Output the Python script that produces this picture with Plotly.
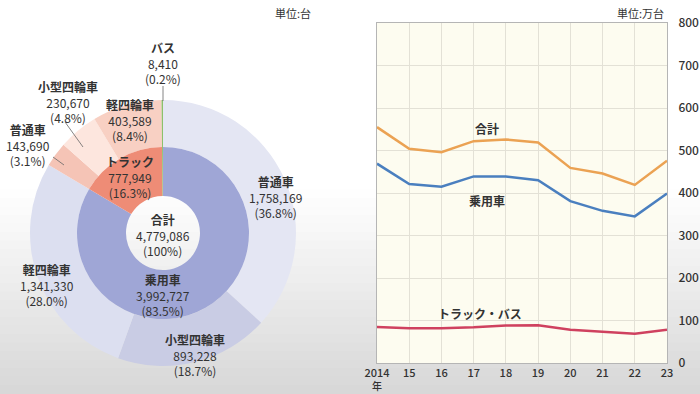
import plotly.graph_objects as go

# ---------------- data ----------------
inner_labels = ["乗用車", "トラック", "バス"]
inner_values = [3992727, 777949, 8410]
inner_pct = ["83.5%", "16.3%", "0.2%"]

outer_labels = ["普通車", "小型四輪車", "軽四輪車", "普通車", "小型四輪車", "軽四輪車", "バス"]
outer_values = [1758169, 893228, 1341330, 143690, 230670, 403589, 8410]
outer_pct = ["36.8%", "18.7%", "28.0%", "3.1%", "4.8%", "8.4%", "0.2%"]

total_value = 4779086

years = [2014, 2015, 2016, 2017, 2018, 2019, 2020, 2021, 2022, 2023]
year_labels = ["2014", "15", "16", "17", "18", "19", "20", "21", "22", "23"]
year_unit = "年"
total_series = [555, 504, 496, 522, 526, 519, 459, 446, 419, 476]
passenger_series = [469, 421, 415, 439, 439, 430, 381, 358, 345, 399]
truckbus_series = [85, 82, 82, 84, 88, 89, 78, 73, 69, 78]
y_ticks = [0, 100, 200, 300, 400, 500, 600, 700, 800]

W, H = 700, 394
FONT = "Noto Sans CJK JP, Noto Sans, sans-serif"
TXT = "#333333"

def px(x):
    return x / W

def py(y):
    return 1 - y / H

fig = go.Figure()

# ---------------- donut ----------------
cx, cy = 163, 233
r_out, r_mid, r_hole = 133, 86, 37

fig.add_trace(go.Pie(
    labels=[f"o{i}" for i in range(len(outer_values))],
    values=outer_values, sort=False, direction="clockwise", rotation=0,
    hole=r_mid / r_out,
    marker=dict(colors=["#e4e6f3", "#c9cce4", "#dcdff0",
                        "#f5c4b6", "#fde6de", "#f8d0c3", "#8cc16b"],
                line=dict(width=0)),
    textinfo="none", hoverinfo="skip", showlegend=False,
    domain=dict(x=[px(cx - r_out), px(cx + r_out)], y=[py(cy + r_out), py(cy - r_out)]),
))
fig.add_trace(go.Pie(
    labels=inner_labels, values=inner_values, sort=False, direction="clockwise", rotation=0,
    hole=r_hole / r_mid,
    marker=dict(colors=["#9fa6d6", "#ee8c76", "#8cc16b"], line=dict(width=0)),
    textinfo="none", hoverinfo="skip", showlegend=False,
    domain=dict(x=[px(cx - r_mid), px(cx + r_mid)], y=[py(cy + r_mid), py(cy - r_mid)]),
))

def block(name, value, pct):
    return f"<b>{name}</b><br>{value:,}<br>({pct})"

ann = []
def add_label(x, y, text, size=12):
    ann.append(dict(x=px(x), y=py(y), xref="paper", yref="paper", text=text,
                    showarrow=False, font=dict(family=FONT, size=size, color=TXT),
                    align="center", xanchor="center", yanchor="middle"))

add_label(163, 63, block("バス", outer_values[6], outer_pct[6]))
add_label(68, 102, block(outer_labels[4], outer_values[4], outer_pct[4]))
add_label(130, 120, block(outer_labels[5], outer_values[5], outer_pct[5]))
add_label(28, 145, block(outer_labels[3], outer_values[3], outer_pct[3]))
add_label(130, 177, block(inner_labels[1], inner_values[1], inner_pct[1]))
add_label(275, 197, block(outer_labels[0], outer_values[0], outer_pct[0]))
add_label(163, 235, f"<b>合計</b><br>{total_value:,}<br>(100%)")
add_label(47, 285, block(outer_labels[2], outer_values[2], outer_pct[2]))
add_label(163, 295, block(inner_labels[0], inner_values[0], inner_pct[0]))
add_label(195, 355, block(outer_labels[1], outer_values[1], outer_pct[1]))
add_label(293, 13, "単位:台", size=11)

# ---------------- line chart ----------------
line_specs = [(total_series, "#eba253", "合計"),
              (passenger_series, "#4a7fbf", "乗用車"),
              (truckbus_series, "#cf415f", "トラック・バス")]
for ys, col, nm in line_specs:
    fig.add_trace(go.Scatter(x=years, y=ys, mode="lines", name=nm,
                             line=dict(color=col, width=2.5),
                             showlegend=False, hoverinfo="skip",
                             xaxis="x", yaxis="y", cliponaxis=False))

for x, y, t in [(487, 129, "合計"), (487, 200, "乗用車"), (480, 313, "トラック・バス")]:
    ann.append(dict(x=px(x), y=py(y), xref="paper", yref="paper", text=f"<b>{t}</b>",
                    showarrow=False, font=dict(family=FONT, size=12, color=TXT),
                    xanchor="center", yanchor="middle"))
ann.append(dict(x=px(640), y=py(13), xref="paper", yref="paper", text="単位:万台",
                showarrow=False, font=dict(family=FONT, size=11, color=TXT),
                xanchor="center", yanchor="middle"))
ann.append(dict(x=years[0], y=0, xref="x", yref="paper", text=year_unit,
                showarrow=False, font=dict(family=FONT, size=10, color=TXT, weight=500),
                xanchor="center", yanchor="bottom", borderpad=0))

# ---------------- background & leader lines ----------------
shapes = []
y0 = 190
n = 24
for i in range(n):
    ya = y0 + (H - y0) * i / n
    yb = y0 + (H - y0) * (i + 1) / n
    t = (i + 0.5) / n
    g = int(round(255 - 40 * t))
    shapes.append(dict(type="rect", xref="paper", yref="paper", x0=0, x1=1,
                       y0=py(yb), y1=py(ya) + 0.001, fillcolor=f"rgb({g},{g},{g})",
                       line=dict(width=0), layer="below"))
shapes.append(dict(type="rect", xref="x domain", yref="y domain", x0=0, x1=1, y0=0, y1=1,
                   fillcolor="#fdfcf0", line=dict(width=0), layer="below"))
for (xa, ya, xb, yb) in [(163, 86, 163, 101), (65, 122, 83, 147), (53, 157, 64, 165)]:
    shapes.append(dict(type="line", xref="paper", yref="paper", x0=px(xa), y0=py(ya),
                       x1=px(xb), y1=py(yb), line=dict(color="#666666", width=0.8)))

fig.update_layout(
    width=W, height=H, margin=dict(l=0, r=0, t=0, b=0, pad=0, autoexpand=False),
    paper_bgcolor="white", plot_bgcolor="rgba(0,0,0,0)",
    font=dict(family=FONT, color=TXT),
    annotations=ann, shapes=shapes,
    xaxis=dict(domain=[px(377), px(667)], range=[2014, 2023], automargin=False,
               tickvals=years, ticktext=year_labels, showgrid=True,
               gridcolor="#e3e1d6", gridwidth=1, zeroline=False,
               showline=True, linecolor="#b5b5b5", linewidth=1, mirror=True,
               ticks="", ticklabelstandoff=0,
               tickfont=dict(family=FONT, size=11, color=TXT, weight=500),
               fixedrange=True),
    yaxis=dict(domain=[py(363), py(23)], range=[0, 800], side="right", automargin=False,
               tickvals=y_ticks, showgrid=True, gridcolor="#e3e1d6", gridwidth=1,
               zeroline=False, showline=True, linecolor="#b5b5b5", linewidth=1,
               mirror=True, ticks="", ticklabelstandoff=8,
               tickfont=dict(family=FONT, size=12, color=TXT, weight=500),
               fixedrange=True),
)

fig.write_html("out.html", config={"displayModeBar": False},
               post_script="document.body.style.margin='0px';document.body.style.overflow='hidden';")
